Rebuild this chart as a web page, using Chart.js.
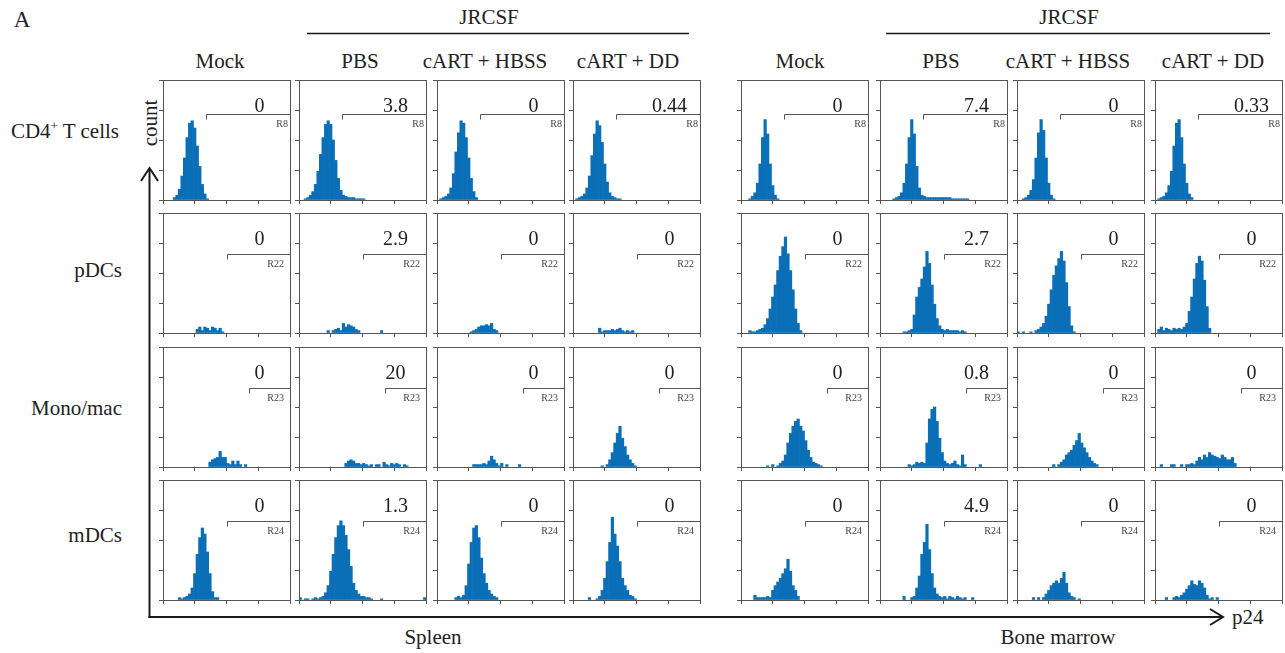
<!DOCTYPE html>
<html>
<head>
<meta charset="utf-8">
<script src="https://cdn.jsdelivr.net/npm/chart.js@4.4.0/dist/chart.umd.min.js"></script>
<style>
body { margin: 0; background: #fff; }
#fig { position: relative; width: 1285px; height: 653px; overflow: hidden; font-family: "Liberation Serif", "Times New Roman", "DejaVu Serif", serif; color: #222; }
#fig canvas { position: absolute; }
#fig svg { position: absolute; left: 0; top: 0; }
.c { position: absolute; white-space: nowrap; font-size: 21px; line-height: 1; transform: translate(-50%, -50%); }
.r { position: absolute; white-space: nowrap; font-size: 21px; line-height: 1; transform: translate(-100%, -50%); }
.l { position: absolute; white-space: nowrap; font-size: 21px; line-height: 1; transform: translate(0, -50%); }
sup { font-size: 13px; line-height: 0; vertical-align: 8px; }
</style>
</head>
<body>
<div id="fig">
  <svg width="1285" height="653">
    <g stroke="#1a1a1a" fill="none">
      <line x1="307" y1="33.5" x2="689" y2="33.5" stroke-width="1.6"/>
      <line x1="886" y1="33.5" x2="1270" y2="33.5" stroke-width="1.6"/>
      <line x1="149.5" y1="618" x2="149.5" y2="169" stroke-width="2"/>
      <polyline points="141,181 149.5,168 158,181" stroke-width="2"/>
      <line x1="148.5" y1="617" x2="1222" y2="617" stroke-width="2"/>
      <polyline points="1210,609 1223,617 1210,625" stroke-width="2"/>
    </g>
  </svg>
  <div class="c" style="left:22px;top:19px;font-size:23px">A</div>
  <div class="c" style="left:489px;top:17px">JRCSF</div>
  <div class="c" style="left:1069px;top:17px">JRCSF</div>
  <div id="titles"></div>
  <div class="r" style="left:119px;top:131px">CD4<sup>+</sup> T cells</div>
  <div class="r" style="left:122px;top:270px">pDCs</div>
  <div class="r" style="left:122px;top:408px">Mono/mac</div>
  <div class="r" style="left:122px;top:535px">mDCs</div>
  <div class="c" style="left:150px;top:123px;transform:translate(-50%,-50%) rotate(-90deg)">count</div>
  <div class="c" style="left:433px;top:637px">Spleen</div>
  <div class="c" style="left:1058px;top:637px">Bone marrow</div>
  <div class="l" style="left:1232px;top:617px">p24</div>
</div>
<script>
var nBins = 50;
var conditions = ["Mock", "PBS", "cART + HBSS", "cART + DD"];
var cellTypes = ["CD4+ T cells", "pDCs", "Mono/mac", "mDCs"];
var gateNames = ["R8", "R22", "R23", "R24"];
var gateStart = [17, 25, 34, 25];   // gate threshold, in bins of the p24 axis
var gateLevel = [72, 66, 66, 66];

var spleenPct = [["0", "3.8", "0", "0.44"], ["0", "2.9", "0", "0"], ["0", "20", "0", "0"], ["0", "1.3", "0", "0"]];
var marrowPct = [["0", "7.4", "0", "0.33"], ["0", "2.7", "0", "0"], ["0", "0.8", "0", "0"], ["0", "4.9", "0", "0"]];

// each histogram: [first bin, counts...] (percent of the y range)
var spleenCD4 = [
  [4, [2,4,9,20,35,52,64,66,60,45,28,13,5,1]],
  [2, [1,2,4,7,13,24,38,52,63,66,63,50,33,18,8,4,3,2,2,2,1,1,1,1]],
  [1, [1,2,3,5,10,22,40,56,66,64,52,35,18,7,2]],
  [1, [1,2,3,5,10,20,37,55,66,62,48,30,15,6,3,2,1,1]]
];
var spleenPDC = [
  [13, [3,5,2,5,4,2,5,4,2,4,1]],
  [11, [2,0,2,3,4,2,8,5,7,6,5,3,2,0,0,0,0,0,0,0,0,2]],
  [13, [1,2,3,5,6,6,7,6,8,3,2]],
  [10, [4,1,2,2,2,3,2,3,4,2,1,2,1,2]]
];
var spleenMono = [
  [18, [4,6,7,8,13,8,8,3,2,5,2,5,2,0,2]],
  [18, [3,5,6,5,3,3,2,3,2,1,2,0,2,2,0,4,2,1,3,2,3,2,0,2,1]],
  [14, [2,2,2,2,3,2,5,9,6,3,1,3,0,2,0,0,0,0,2]],
  [11, [1,0,2,6,12,20,28,34,24,17,10,6,3,1]]
];
var spleenMDC = [
  [6, [2,1,2,3,5,10,22,38,52,60,55,40,22,7,2,2]],
  [0, [2,0,1,1,0,1,2,1,2,3,6,12,24,38,52,62,66,62,54,42,28,14,8,5,3,3,2,2,1,0,0,0,1,0,0,0,0,0,0,0,0,0,0,0,0,0,0,0,0,2]],
  [7, [2,3,2,4,12,30,48,60,62,52,35,22,14,8,5,3,2]],
  [6, [2,0,0,1,3,8,18,32,48,69,55,45,32,18,12,8,4,3,1]]
];

var marrowCD4 = [
  [3, [1,3,6,14,30,52,67,55,30,12,4,1]],
  [5, [1,2,3,6,14,30,52,67,55,28,10,4,3,2,2,2,2,2,2,2,2,2,2,1,1,1,1,1,1,1]],
  [2, [1,2,4,8,17,35,56,67,58,35,14,4,1]],
  [1, [1,2,3,6,12,24,45,64,67,52,30,14,5,2]]
];
var marrowPDC = [
  [3, [2,1,1,2,3,4,7,12,20,30,40,52,64,72,80,66,52,36,20,8,2]],
  [9, [1,1,2,3,15,30,38,45,55,68,58,40,24,12,6,3,2,3,2,2,2,2,1,2,1]],
  [0, [1,0,1,0,0,1,0,2,3,5,8,14,24,36,48,56,62,68,60,42,22,6,1]],
  [1, [3,5,2,4,3,2,4,3,4,3,5,8,18,30,45,58,64,60,44,22,4]]
];
var marrowMono = [
  [10, [1,0,2,0,1,3,5,10,20,28,34,38,40,34,30,22,14,8,4,3,2,1]],
  [11, [2,1,2,4,3,4,3,20,40,48,50,38,24,12,5,3,2,3,5,2,1,10,2,0,0,0,0,0,2]],
  [14, [2,0,2,4,6,10,12,14,18,22,28,20,16,12,8,5,3,2]],
  [2, [2,0,0,0,2,2,0,0,2,0,2,2,3,2,5,8,6,10,8,12,10,9,8,7,10,8,6,6,8,3]]
];
var marrowMDC = [
  [5, [4,2,2,2,2,3,2,8,12,15,18,22,26,34,24,12,8,3]],
  [9, [3,0,0,2,3,10,20,38,48,63,42,22,10,5,3,2,3,1,3,2,1,3,2,1,2,0,0,2]],
  [6, [2,0,2,0,2,5,8,12,14,16,14,18,23,14,6,3,2,0,1]],
  [4, [2,0,0,2,3,2,4,6,9,12,16,13,12,16,14,10,4,1,2,0,2]]
];

var spleen = [spleenCD4, spleenPDC, spleenMono, spleenMDC];
var marrow = [marrowCD4, marrowPDC, marrowMono, marrowMDC];

// layout
var colLeft = [163, 299, 437, 573, 741, 880, 1017, 1155];
var rowTop = [80, 213, 347, 480];
var panelW = 127, panelH = 120;
var titleX = [220, 360, 485, 628, 800, 941, 1068, 1213];
var frame = '#555';
var barColor = '#0a6fb7';
var serif = '"Liberation Serif", "Times New Roman", "DejaVu Serif", serif';

var fig = document.getElementById('fig');
var titles = document.getElementById('titles');
titleX.forEach(function (x, i) {
  var d = document.createElement('div');
  d.className = 'c';
  d.style.left = x + 'px';
  d.style.top = '61px';
  d.textContent = conditions[i % 4];
  titles.appendChild(d);
});

// empty bins are left out so no baseline sliver is drawn
function fillBins(h) {
  var out = [];
  for (var i = 0; i < nBins; i++) {
    var k = i - h[0];
    var v = (k >= 0 && k < h[1].length) ? h[1][k] : 0;
    out.push({ x: i + 0.5, y: v > 0 ? v : null });
  }
  return out;
}

var gatePlugin = {
  id: 'gate',
  afterDatasetsDraw: function (chart, args, o) {
    var xs = chart.scales.x, ys = chart.scales.y, ctx = chart.ctx;
    var x0 = Math.round(xs.getPixelForValue(o.start)) + 0.5;
    var x1 = xs.getPixelForValue(nBins);
    var yy = Math.round(ys.getPixelForValue(o.level)) + 0.5;
    ctx.save();
    ctx.strokeStyle = frame;
    ctx.lineWidth = 1;
    ctx.beginPath();
    ctx.moveTo(x0, yy + 5);
    ctx.lineTo(x0, yy);
    ctx.lineTo(x1, yy);
    ctx.stroke();
    ctx.fillStyle = '#222';
    ctx.font = '20px ' + serif;
    ctx.textAlign = 'center';
    ctx.textBaseline = 'alphabetic';
    ctx.fillText(o.value, xs.getPixelForValue(38), ys.getPixelForValue(73.5));
    ctx.fillStyle = '#444';
    ctx.font = '10px ' + serif;
    ctx.textAlign = 'right';
    ctx.fillText(o.name, x1 - o.inset, yy + 12);
    ctx.restore();
  }
};

function makePanel(h, row, col, pct) {
  var cv = document.createElement('canvas');
  var w = panelW + 7, ht = panelH + 7;
  cv.width = w;
  cv.height = ht;
  cv.style.width = w + 'px';
  cv.style.height = ht + 'px';
  cv.style.left = (colLeft[col] - 5) + 'px';
  cv.style.top = (rowTop[row] - 2) + 'px';
  fig.appendChild(cv);
  new Chart(cv, {
    type: 'bar',
    data: {
      datasets: [{
        data: fillBins(h),
        backgroundColor: barColor,
        borderWidth: 0,
        barPercentage: 1,
        categoryPercentage: 1
      }]
    },
    options: {
      animation: false,
      responsive: false,
      events: [],
      layout: { padding: { top: 2, right: 2, left: 1, bottom: 1 } },
      plugins: {
        legend: { display: false },
        tooltip: { enabled: false },
        gate: {
          start: gateStart[row], level: gateLevel[row], value: pct,
          name: gateNames[row], inset: row === 0 ? 2 : 6
        }
      },
      scales: {
        x: {
          type: 'linear', min: 0, max: nBins, offset: false,
          ticks: { display: false, stepSize: nBins / 4 },
          grid: { drawOnChartArea: false, tickLength: 4, color: frame, offset: false },
          border: { color: frame }
        },
        y: {
          type: 'linear', min: 0, max: 100,
          ticks: { display: false, stepSize: 25 },
          grid: { drawOnChartArea: false, tickLength: 4, color: frame },
          border: { color: frame }
        },
        x2: {
          type: 'linear', position: 'top', min: 0, max: nBins,
          ticks: { display: false },
          grid: { display: false, drawTicks: false },
          border: { color: frame }
        },
        y2: {
          type: 'linear', position: 'right', min: 0, max: 100,
          ticks: { display: false },
          grid: { display: false, drawTicks: false },
          border: { color: frame }
        }
      }
    },
    plugins: [gatePlugin]
  });
}

for (var r = 0; r < 4; r++) {
  for (var c = 0; c < 4; c++) {
    makePanel(spleen[r][c], r, c, spleenPct[r][c]);
    makePanel(marrow[r][c], r, c + 4, marrowPct[r][c]);
  }
}
</script>
</body>
</html>
